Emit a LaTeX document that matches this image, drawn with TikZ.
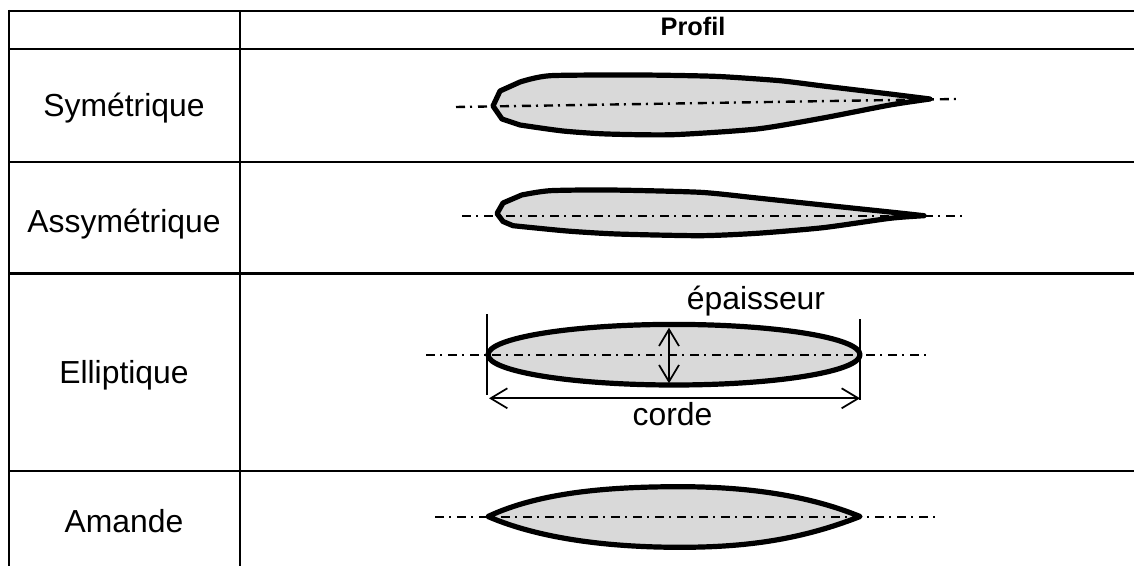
\documentclass[tikz,border=0pt]{standalone}
\usepackage{fontspec}
\setmainfont{Liberation Sans}
\usetikzlibrary{arrows.meta}
\tikzset{
  x=0.75pt,y=-0.75pt,
  grid/.style={line width=1.6pt},
  profile/.style={fill=black!15,draw=black,line width=3.9pt,line join=round},
  axis/.style={line width=1.8pt,dash pattern=on 6.75pt off 3.75pt on 1.5pt off 4.5pt},
  dim/.style={line width=1.3pt},
  tiparrow/.style={dim,{Straight Barb[length=12.5pt,width=15pt]}-{Straight Barb[length=12.5pt,width=15pt]}},
  lab/.style={font=\fontsize{23.9pt}{28pt}\selectfont,inner sep=0pt,anchor=base},
}
\begin{document}
\begin{tikzpicture}
\useasboundingbox (0,0) rectangle (1134,566);
\fill[white] (0,0) rectangle (1134,566);
% table
\draw[grid] (9,11) -- (1134,11);
\draw[grid] (9,48.7) -- (1134,48.7);
\draw[grid] (9,161.7) -- (1134,161.7);
\draw[grid] (9,273.5) -- (1134,273.5);
\draw[grid] (9,470.7) -- (1134,470.7);
\draw[grid] (9,10) -- (9,566);
\draw[grid] (240,11) -- (240,566);
\node[inner sep=0pt,anchor=base,font=\bfseries\fontsize{19pt}{20pt}\selectfont] (h) at (693,36) {Profil};
\node[lab] (a) at (124,117) {Symétrique};
\node[lab] (b) at (124,233) {Assymétrique};
\node[lab] (c) at (124,383) {Elliptique};
\node[lab] (d) at (124,532) {Amande};
% Symetrique
\draw[profile] plot[smooth,tension=0.4] coordinates {(930,99) (890,94) (823,86) (780,80.7) (723,76.7) (690,75.7) (637,75) (550,75.7) (520,82)} -- (500,91) -- (493,106) -- (502,119) -- (520,125) -- plot[smooth,tension=0.4] coordinates {(520,125) (563,131) (607,134) (673,134.7) (757,129) (823,118) (890,105) (930,99)} -- cycle;
\coordinate (s1) at (456,107); \coordinate (s2) at (957,99);
\draw[axis] (s1) -- (s2);
% Assymetrique
\draw[profile] plot[smooth,tension=0.4] coordinates {(924,215.7) (890,212) (823,205) (757,198) (700,192.3) (610,190) (550,190.7) (521.7,195)} -- (503,203) -- (497,213.5) -- (503,221.5) -- (513,225.7) -- plot[smooth,tension=0.4] coordinates {(513,225.7) (567,231) (617,234) (700,235.7) (757,233.3) (823,227.7) (890,218.3) (924,215.7)} -- cycle;
\coordinate (a1) at (462,216); \coordinate (a2) at (963,216);
\draw[axis] (a1) -- (a2);
% Elliptique
\draw[profile] (674,354.7) ellipse [x radius=186,y radius=30.3];
\coordinate (e1) at (426,355); \coordinate (e2) at (927,355);
\draw[axis] (e1) -- (e2);
\coordinate (el) at (487.3,314.3); \coordinate (elb) at (487.3,395);
\coordinate (er) at (860.3,319.3); \coordinate (erb) at (860.3,400);
\draw[dim] (el) -- (elb);
\draw[dim] (er) -- (erb);
\coordinate (cl) at (489,398.3); \coordinate (cr) at (860,398.3);
\draw[tiparrow] (cl) -- (cr);
\coordinate (et) at (669,327.7); \coordinate (eb) at (669,383.3);
\draw[tiparrow] (et) -- (eb);
\node[lab] (ep) at (756,310) {épaisseur};
\node[lab] (co) at (672.5,425.5) {corde};
% Amande
\draw[profile] (488,516.5) .. controls (540,492) and (610,486.7) .. (680,486.7) .. controls (750,486.7) and (810,496) .. (860,516.5)
 .. controls (800,540) and (745,547.3) .. (680,547.3) .. controls (610,547.3) and (540,539) .. (488,516.5) -- cycle;
\coordinate (m1) at (435,516.7); \coordinate (m2) at (936,516.7);
\draw[axis] (m1) -- (m2);
\end{tikzpicture}
\end{document}
